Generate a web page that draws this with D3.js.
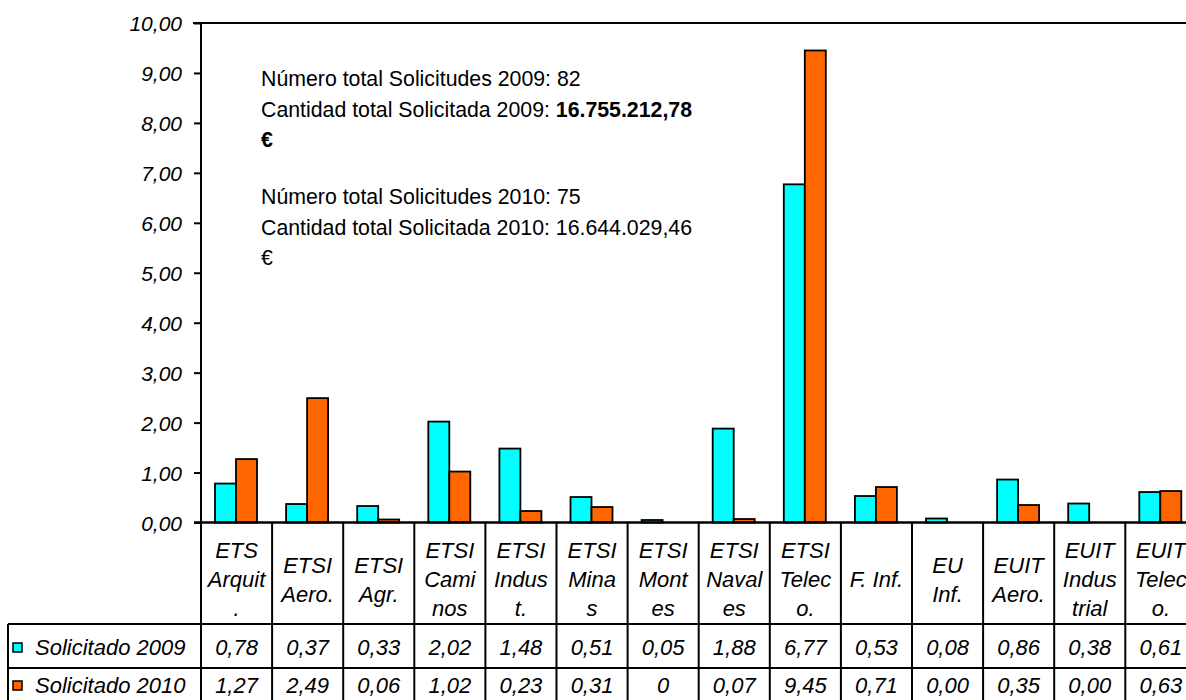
<!DOCTYPE html>
<html>
<head>
<meta charset="utf-8">
<script src="https://cdn.jsdelivr.net/npm/d3@7"></script>
<style>
  body { margin: 0; background: #fff; }
  svg text { font-family: "Liberation Sans", Arial, sans-serif; fill: #000; }
</style>
</head>
<body>
<svg id="chart" width="1186" height="700"></svg>
<script>
// categories (schools) and how Excel wrapped their names in the table cells
const categories = ["ETS Arquit.", "ETSI Aero.", "ETSI Agr.", "ETSI Caminos", "ETSI Indust.", "ETSI Minas",
  "ETSI Montes", "ETSI Navales", "ETSI Teleco.", "F. Inf.", "EU Inf.", "EUIT Aero.", "EUIT Industrial", "EUIT Teleco."];
const categoryLines = [["ETS", "Arquit", "."], ["ETSI", "Aero."], ["ETSI", "Agr."], ["ETSI", "Cami", "nos"],
  ["ETSI", "Indus", "t."], ["ETSI", "Mina", "s"], ["ETSI", "Mont", "es"], ["ETSI", "Naval", "es"],
  ["ETSI", "Telec", "o."], ["F. Inf."], ["EU", "Inf."], ["EUIT", "Aero."], ["EUIT", "Indus", "trial"], ["EUIT", "Telec", "o."]];

const series = ["Solicitado 2009", "Solicitado 2010"];
const sol2009 = [0.78, 0.37, 0.33, 2.02, 1.48, 0.51, 0.05, 1.88, 6.77, 0.53, 0.08, 0.86, 0.38, 0.61];
const sol2010 = [1.27, 2.49, 0.06, 1.02, 0.23, 0.31, 0, 0.07, 9.45, 0.71, 0.00, 0.35, 0.00, 0.63];
const plainCells2010 = ["ETSI Montes"]; // this cell is shown as a bare 0 in the table
const colors = ["#00ffff", "#ff6600"];

const yTicks = [0, 1, 2, 3, 4, 5, 6, 7, 8, 9, 10];

const notes = [
  { parts: [["Número total Solicitudes 2009: 82", 400]] },
  { parts: [["Cantidad total Solicitada 2009: ", 400], ["16.755.212,78", 700]] },
  { parts: [["€", 700]] },
  { parts: [["Número total Solicitudes 2010: 75", 400]] },
  { parts: [["Cantidad total Solicitada 2010: 16.644.029,46", 400]] },
  { parts: [["€", 400]] }
];
const noteBaselines = [86, 116.5, 147, 204, 234.5, 265];

const es = d3.formatLocale({ decimal: ",", thousands: ".", grouping: [3], currency: ["", " €"] });
const f2 = es.format(".2f");

const svg = d3.select("#chart");
const fs = 22, tickFs = 21, noteFs = 21.3;
const plotLeft = 201, colW = 71.1, plotTop = 23, zeroY = 522.5;
const labelRowBottom = 624, row1Bottom = 668, tableBottom = 712;
const plotRight = plotLeft + colW * categories.length;

const x = d3.scaleBand().domain(categories).range([plotLeft, plotRight]).padding(0);
const xs = d3.scaleBand().domain(series).range([14, 56]);
const y = d3.scaleLinear().domain([0, 10]).range([zeroY, plotTop]);

const rows = categories.map((c, i) => ({ name: c, values: [sol2009[i], sol2010[i]] }));

// bars
const grp = svg.append("g").selectAll("g").data(rows).enter().append("g")
  .attr("transform", d => "translate(" + x(d.name) + ",0)");
grp.selectAll("rect")
  .data(d => d.values.map((v, k) => ({ key: series[k], v: v, k: k })).filter(e => e.v > 0))
  .enter().append("rect")
  .attr("x", d => xs(d.key))
  .attr("width", xs.bandwidth())
  .attr("y", d => y(d.v))
  .attr("height", d => zeroY - y(d.v))
  .attr("fill", d => colors[d.k])
  .attr("stroke", "#000")
  .attr("stroke-width", 1.8);

// y axis
const yAxis = d3.axisLeft(y).tickValues(yTicks).tickSize(7).tickSizeOuter(0).tickPadding(12)
  .tickFormat(d => f2(d));
const ag = svg.append("g").attr("transform", "translate(" + plotLeft + ",0)").call(yAxis);
ag.select(".domain").remove();
ag.selectAll(".tick line").attr("stroke", "#000").attr("stroke-width", 2);
ag.selectAll(".tick text")
  .attr("font-size", tickFs).attr("font-style", "italic")
  .attr("font-family", "Liberation Sans, Arial, sans-serif")
  .attr("fill", "#000").attr("dy", "0.36em");

// plot frame lines: top border, y axis, zero line
const lines = svg.append("g").attr("stroke", "#000").attr("stroke-width", 2);
lines.append("line").attr("x1", plotLeft - 8).attr("x2", 1186).attr("y1", plotTop).attr("y2", plotTop);
lines.append("line").attr("x1", plotLeft).attr("x2", plotLeft).attr("y1", plotTop).attr("y2", tableBottom);
lines.append("line").attr("x1", plotLeft - 7).attr("x2", 1186).attr("y1", zeroY).attr("y2", zeroY).attr("stroke-width", 2.5);

// data table grid
const grid = svg.append("g").attr("stroke", "#000").attr("stroke-width", 2);
grid.append("line").attr("x1", 8).attr("x2", plotRight).attr("y1", labelRowBottom).attr("y2", labelRowBottom);
grid.append("line").attr("x1", 8).attr("x2", plotRight).attr("y1", row1Bottom).attr("y2", row1Bottom);
grid.append("line").attr("x1", 8).attr("x2", 8).attr("y1", labelRowBottom).attr("y2", tableBottom);
grid.selectAll(".col").data(categories).enter().append("line")
  .attr("x1", d => x(d) + x.bandwidth()).attr("x2", d => x(d) + x.bandwidth())
  .attr("y1", zeroY).attr("y2", tableBottom);

// category labels
const lineGap = 29, labelMid = 580;
const lab = svg.append("g").attr("font-size", fs).attr("font-style", "italic").attr("text-anchor", "middle");
rows.forEach((r, i) => {
  const ls = categoryLines[i];
  ls.forEach((t, j) => {
    lab.append("text")
      .attr("x", x(r.name) + x.bandwidth() / 2)
      .attr("y", labelMid + (j - (ls.length - 1) / 2) * lineGap + 7)
      .text(t);
  });
});

// table values
const rowBase = [655, 693];
const vals = svg.append("g").attr("font-size", fs).attr("font-style", "italic").attr("text-anchor", "middle");
series.forEach((s, k) => {
  vals.selectAll(".v" + k).data(rows).enter().append("text")
    .attr("x", d => x(d.name) + x.bandwidth() / 2)
    .attr("y", rowBase[k])
    .text(d => (k === 1 && plainCells2010.includes(d.name)) ? String(d.values[k]) : f2(d.values[k]));
});

// legend keys in the table
const leg = svg.append("g");
series.forEach((s, k) => {
  leg.append("rect").attr("x", 13).attr("y", rowBase[k] - 12).attr("width", 9).attr("height", 9)
    .attr("fill", colors[k]).attr("stroke", "#000").attr("stroke-width", 1.5);
  leg.append("text").attr("x", 35).attr("y", rowBase[k])
    .attr("font-size", fs).attr("font-style", "italic").text(s);
});

// notes
const nt = svg.append("g").attr("font-size", noteFs);
notes.forEach((n, i) => {
  const t = nt.append("text").attr("x", 261).attr("y", noteBaselines[i]);
  n.parts.forEach(p => t.append("tspan").attr("font-weight", p[1]).text(p[0]));
});
</script>
</body>
</html>
